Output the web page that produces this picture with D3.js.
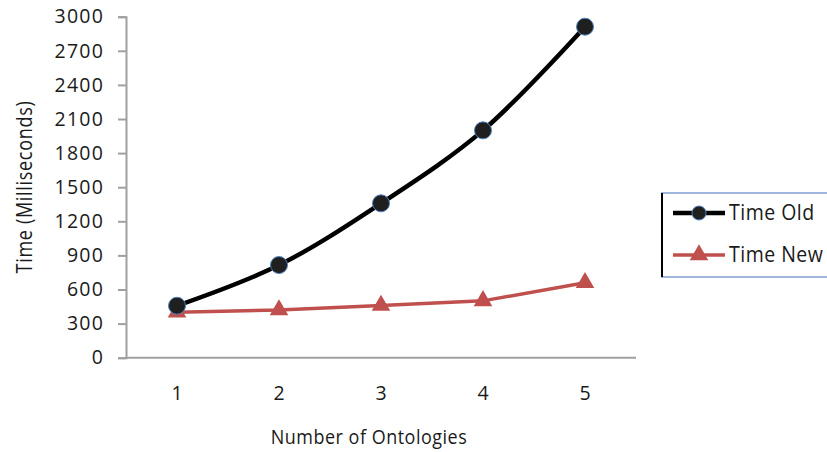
<!DOCTYPE html>
<html><head><meta charset="utf-8">
<script src="https://cdn.jsdelivr.net/npm/d3@7"></script>
<style>body{margin:0;background:#fff}svg{display:block}text{font-family:"Open Sans",sans-serif;fill:#1a1a1a}</style>
</head><body>
<svg id="c" width="827" height="452"></svg>
<script>
const categories = ["1","2","3","4","5"];
const timeOld = [457, 815, 1358, 2000, 2912];
const timeNew = [400, 420, 460, 500, 660];
const yTicks = [0,300,600,900,1200,1500,1800,2100,2400,2700,3000];
const seriesNames = ["Time Old","Time New"];

const svg = d3.select("#c");
const x = d3.scaleBand().domain(categories).range([126, 636]);
const y = d3.scaleLinear().domain([0,3000]).range([357.7, 16.7]);
const cx = d => x(d) + x.bandwidth()/2;

// y axis
const ya = svg.append("g").attr("transform","translate(126,0)")
  .call(d3.axisLeft(y).tickValues(yTicks).tickSize(8).tickPadding(14).tickFormat(d3.format("d")));
ya.select(".domain").attr("stroke","#a0a0a0").attr("stroke-width",2);
ya.selectAll(".tick line").attr("stroke","#a0a0a0").attr("stroke-width",2);
ya.selectAll("text").attr("font-size",19.5).attr("letter-spacing","1.2px").attr("fill","#1a1a1a").style("font-family","Open Sans");

// x axis
const xa = svg.append("g").attr("transform","translate(0,357.7)")
  .call(d3.axisBottom(x).tickSize(0).tickPadding(28.5));
xa.select(".domain").attr("stroke","#a0a0a0").attr("stroke-width",2).attr("d","M126,0H636");
xa.selectAll("text").attr("font-size",19.5).attr("fill","#1a1a1a").style("font-family","Open Sans");

// titles
svg.append("text").attr("transform","translate(369,444) scale(1,1.15)").attr("text-anchor","middle")
  .attr("font-size",18).attr("letter-spacing","0.5px").text("Number of Ontologies");
svg.append("text").attr("transform","translate(32,187) rotate(-90) scale(1,1.25)").attr("text-anchor","middle")
  .attr("font-size",18).attr("letter-spacing","0.7px").text("Time (Milliseconds)");

// lines
const lineSmooth = d3.line().x((d,i)=>cx(categories[i])).y(d=>y(d)).curve(d3.curveCatmullRom.alpha(0.5));
const lineStraight = d3.line().x((d,i)=>cx(categories[i])).y(d=>y(d));
svg.append("path").attr("d",lineStraight(timeNew)).attr("fill","none").attr("stroke","#c0504d").attr("stroke-width",3.5);
svg.append("path").attr("d",lineSmooth(timeOld)).attr("fill","none").attr("stroke","#000").attr("stroke-width",4.5);

const tri = d3.symbol().type(d3.symbolTriangle).size(150);
svg.selectAll(".tri").data(timeNew).enter().append("path")
  .attr("transform",(d,i)=>`translate(${cx(categories[i])},${y(d)})`)
  .attr("d",tri()).attr("fill","#c0504d");
svg.selectAll(".cir").data(timeOld).enter().append("circle")
  .attr("cx",(d,i)=>cx(categories[i])).attr("cy",d=>y(d)).attr("r",8.5)
  .attr("fill","#1f1f1f").attr("stroke","#4f81bd").attr("stroke-width",1);

// legend
const lg = svg.append("g");
lg.append("rect").attr("x",662).attr("y",193).attr("width",180).attr("height",84)
  .attr("fill","#fff").attr("stroke","#7f9fcf").attr("stroke-width",1.5);
lg.append("line").attr("x1",662).attr("x2",662).attr("y1",193).attr("y2",277).attr("stroke","#000").attr("stroke-width",2);
const legY = [213, 255];
lg.append("line").attr("x1",673).attr("x2",725).attr("y1",legY[0]).attr("y2",legY[0]).attr("stroke","#000").attr("stroke-width",4.5);
lg.append("circle").attr("cx",699).attr("cy",legY[0]).attr("r",7).attr("fill","#1f1f1f").attr("stroke","#4f81bd");
lg.append("line").attr("x1",673).attr("x2",725).attr("y1",legY[1]).attr("y2",legY[1]).attr("stroke","#c0504d").attr("stroke-width",3.5);
lg.append("path").attr("transform",`translate(699,${legY[1]})`).attr("d",tri()).attr("fill","#c0504d");
seriesNames.forEach((n,i)=>{
  lg.append("text").attr("transform",`translate(729,${legY[i]+7}) scale(1,1.1)`).attr("font-size",19.5).attr("letter-spacing","0.5px").text(n);
});
</script>
</body></html>
